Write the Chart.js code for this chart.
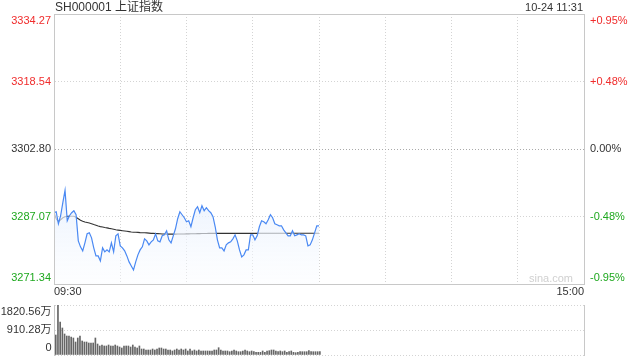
<!DOCTYPE html>
<html>
<head>
<meta charset="utf-8">
<script src="https://cdn.jsdelivr.net/npm/chart.js@4.4.1/dist/chart.umd.min.js"></script>
<style>
  html, body { margin: 0; padding: 0; background: #fff; }
  #wrap { position: relative; width: 640px; height: 360px; overflow: hidden; }
  #priceBox { position: absolute; left: 0; top: 0; width: 640px; height: 300px; }
  #volBox { position: absolute; left: 0; top: 290px; width: 640px; height: 70px; }
</style>
</head>
<body>
<div id="wrap">
  <div id="priceBox"><canvas id="priceChart"></canvas></div>
  <div id="volBox"><canvas id="volChart"></canvas></div>
</div>
<script>
// SH000001 intraday, 09:30 -> 11:30 (one point per minute)
const title = 'SH000001 上证指数';
const stamp = '10-24 11:31';
const prevClose = 3302.80;
const priceTicks = [3271.34, 3287.07, 3302.80, 3318.54, 3334.27];
const pctLabels = ['-0.95%', '-0.48%', '0.00%', '+0.48%', '+0.95%'];
const minuteTicks = [0, 30, 60, 90, 120, 150, 180, 210, 240];
const timeLabels = ['09:30', '', '', '', '', '', '', '', '15:00'];
const volTicks = [0, 910.28, 1820.56];
const volLabels = ['0', '910.28万', '1820.56万'];

const price = [
  3287.95, 3288.18, 3285.38, 3287.25, 3290.29, 3293.17, 3286.08, 3287.25, 3287.95, 3288.42,
  3287.48, 3281.40, 3280.00, 3279.06, 3280.93, 3283.04, 3283.27, 3282.10, 3279.76, 3277.89,
  3277.89, 3276.72, 3279.76, 3278.83, 3279.29, 3278.83, 3280.93, 3278.83, 3282.57, 3283.04,
  3280.23, 3279.76, 3279.06, 3277.89, 3276.49, 3275.55, 3274.62, 3276.49, 3278.13, 3279.29,
  3280.00, 3281.87, 3281.40, 3280.46, 3281.17, 3281.63, 3283.04, 3281.40, 3281.17, 3282.57,
  3282.80, 3283.74, 3281.63, 3280.93, 3282.57, 3284.21, 3286.55, 3288.18, 3287.48, 3286.78,
  3285.85, 3286.08, 3284.68, 3286.78, 3288.65, 3289.35, 3287.95, 3289.59, 3288.42, 3289.12,
  3288.42, 3287.95, 3287.02, 3284.68, 3281.63, 3279.76, 3279.76, 3279.06, 3280.46, 3280.93,
  3281.17, 3281.87, 3282.80, 3281.40, 3279.29, 3277.66, 3278.13, 3279.29, 3279.29, 3282.80,
  3282.80, 3281.63, 3282.57, 3284.68, 3286.08, 3285.85, 3285.38, 3286.31, 3287.48, 3286.78,
  3285.38, 3285.14, 3284.91, 3284.91, 3283.97, 3283.27, 3282.57, 3282.57, 3283.74, 3282.57,
  3282.80, 3283.04, 3282.80, 3282.80, 3282.57, 3280.23, 3280.46, 3281.63, 3283.27, 3284.91,
  3284.91
];

const avgPrice = [
  3287.95, 3286.55, 3285.85, 3286.31, 3286.78, 3287.02, 3287.13, 3287.13, 3287.13, 3287.13,
  3286.90, 3286.55, 3286.20, 3285.96, 3285.78, 3285.66, 3285.54, 3285.38, 3285.19, 3285.03,
  3284.84, 3284.72, 3284.63, 3284.51, 3284.42, 3284.30, 3284.21, 3284.09, 3283.97, 3283.90,
  3283.83, 3283.76, 3283.69, 3283.62, 3283.55, 3283.46, 3283.41, 3283.39, 3283.37, 3283.32,
  3283.30, 3283.27, 3283.25, 3283.20, 3283.15, 3283.13, 3283.11, 3283.08, 3283.06, 3283.01,
  3282.99, 3282.97, 3282.97, 3282.97, 3282.97, 3282.97, 3282.98, 3282.99, 3283.00, 3283.01,
  3283.02, 3283.03, 3283.04, 3283.05, 3283.06, 3283.08, 3283.09, 3283.10, 3283.11, 3283.12,
  3283.13, 3283.14, 3283.15, 3283.15, 3283.15, 3283.15, 3283.15, 3283.15, 3283.15, 3283.15,
  3283.15, 3283.15, 3283.15, 3283.15, 3283.15, 3283.15, 3283.15, 3283.15, 3283.15, 3283.15,
  3283.15, 3283.15, 3283.15, 3283.17, 3283.17, 3283.17, 3283.17, 3283.17, 3283.17, 3283.17,
  3283.17, 3283.17, 3283.17, 3283.17, 3283.17, 3283.17, 3283.17, 3283.17, 3283.17, 3283.17,
  3283.17, 3283.17, 3283.17, 3283.17, 3283.17, 3283.17, 3283.17, 3283.17, 3283.17, 3283.17,
  3283.17
];

// volume, 万
const volume = [
  728, 1820.56, 1201, 983, 765, 692, 692, 655, 619, 473,
  619, 692, 510, 473, 473, 437, 437, 437, 619, 400,
  328, 364, 328, 328, 364, 328, 328, 364, 328, 291,
  255, 328, 328, 328, 291, 364, 291, 255, 328, 218,
  218, 182, 182, 182, 218, 182, 218, 255, 255, 218,
  218, 182, 182, 146, 182, 218, 182, 218, 182, 218,
  146, 218, 146, 182, 146, 182, 146, 146, 146, 146,
  146, 146, 182, 182, 266, 182, 146, 146, 146, 120,
  146, 182, 146, 120, 120, 146, 182, 146, 120, 146,
  120, 98, 98, 98, 146, 98, 146, 157, 182, 182,
  146, 120, 146, 120, 146, 98, 120, 146, 98, 84,
  98, 120, 120, 120, 120, 157, 120, 120, 120, 120,
  120
];

const RED = '#f02c2c', GREEN = '#1fa81f', TEXT = '#333', GRID = '#d4d4d4', FRAME = '#c8c8c8';

Chart.defaults.font.family = 'Arial, "Liberation Sans", "Noto Sans CJK SC", sans-serif';
Chart.defaults.font.size = 11;

// first / last tick label pushed inside the box (two-line label trick)
function innerLabel(text, i, n) {
  if (i === 0) return [text, ''];
  if (i === n - 1) return ['', text];
  return text;
}

function tickColor(ctx) {
  const v = ctx.tick ? ctx.tick.value : prevClose;
  if (v > prevClose + 0.001) return RED;
  if (v < prevClose - 0.001) return GREEN;
  return TEXT;
}

function fillGradient(ctx) {
  const area = ctx.chart.chartArea;
  if (!area) return 'rgba(230,239,253,0.6)';
  const g = ctx.chart.ctx.createLinearGradient(0, area.top, 0, area.bottom);
  g.addColorStop(0, 'rgba(222,234,252,0.95)');
  g.addColorStop(0.65, 'rgba(230,239,253,0.85)');
  g.addColorStop(1, 'rgba(250,252,255,0.4)');
  return g;
}

const setTicks = list => scale => { scale.ticks = list.map(value => ({ value })); };
const fixWidth = w => scale => { scale.width = w; scale.paddingTop = 0; scale.paddingBottom = 0; };

const priceFrame = {
  id: 'priceFrame',
  afterDraw(chart) {
    const { ctx, chartArea: a } = chart;
    ctx.save();
    ctx.strokeStyle = FRAME;
    ctx.lineWidth = 1;
    ctx.strokeRect(a.left + 0.5, a.top + 0.5, a.right - a.left, a.bottom - a.top);
    ctx.textBaseline = 'middle';
    ctx.fillStyle = TEXT;
    ctx.font = '12px Arial, "Noto Sans CJK SC", sans-serif';
    ctx.textAlign = 'left';
    ctx.fillText(title, a.left + 1, 8);
    ctx.font = '11px Arial, sans-serif';
    ctx.textAlign = 'right';
    ctx.fillText(stamp, a.right - 1, 8);
    ctx.fillStyle = '#d0d0d0';
    ctx.fillText('sina.com', a.right - 11, a.bottom - 5);
    ctx.restore();
  }
};

const volFrame = {
  id: 'volFrame',
  afterDraw(chart) {
    const { ctx, chartArea: a } = chart;
    ctx.save();
    ctx.strokeStyle = FRAME;
    ctx.lineWidth = 1;
    ctx.beginPath();
    ctx.moveTo(a.left + 0.5, a.top);
    ctx.lineTo(a.left + 0.5, a.bottom + 1);
    ctx.moveTo(a.right + 0.5, a.top);
    ctx.lineTo(a.right + 0.5, a.bottom + 1);
    ctx.stroke();
    ctx.restore();
  }
};

new Chart(document.getElementById('priceChart'), {
  type: 'line',
  data: {
    datasets: [
      {
        label: '上证指数',
        data: price.map((y, x) => ({ x, y })),
        borderColor: '#4a89f3',
        borderWidth: 1.2,
        pointRadius: 0,
        tension: 0,
        fill: 'start',
        backgroundColor: fillGradient
      },
      {
        label: '均价',
        data: avgPrice.map((y, x) => ({ x, y })),
        borderColor: '#333',
        borderWidth: 1.1,
        pointRadius: 0,
        tension: 0,
        fill: false
      }
    ]
  },
  options: {
    responsive: true,
    maintainAspectRatio: false,
    animation: false,
    events: [],
    layout: { padding: { top: 14, left: 0, right: 0, bottom: 0 } },
    plugins: { legend: { display: false }, tooltip: { enabled: false } },
    scales: {
      x: {
        type: 'linear', min: 0, max: 240,
        afterBuildTicks: setTicks(minuteTicks),
        afterFit: s => { s.height = 16; s.paddingLeft = 0; s.paddingRight = 0; },
        ticks: { align: 'inner', autoSkip: false, maxRotation: 0, padding: 1, color: TEXT,
          callback: (v, i) => timeLabels[i] },
        grid: { color: GRID, drawTicks: false },
        border: { color: FRAME, dash: [1, 2] }
      },
      y: {
        position: 'left', min: priceTicks[0], max: priceTicks[priceTicks.length - 1],
        afterBuildTicks: setTicks(priceTicks),
        afterFit: fixWidth(54),
        ticks: { autoSkip: false, padding: 3, color: tickColor, font: { size: 11, lineHeight: '13px' },
          callback: (v, i, t) => innerLabel(priceTicks[i].toFixed(2), i, t.length) },
        grid: { color: ctx => (ctx.tick && ctx.tick.value === prevClose) ? '#aaa' : GRID, drawTicks: false },
        border: { color: FRAME, dash: [1, 2] }
      },
      yPct: {
        position: 'right', min: priceTicks[0], max: priceTicks[priceTicks.length - 1],
        afterBuildTicks: setTicks(priceTicks),
        afterFit: fixWidth(56),
        ticks: { autoSkip: false, padding: 6, color: tickColor, font: { size: 11, lineHeight: '13px' },
          callback: (v, i, t) => innerLabel(pctLabels[i], i, t.length) },
        grid: { display: false, drawTicks: false },
        border: { color: FRAME }
      }
    }
  },
  plugins: [priceFrame]
});

new Chart(document.getElementById('volChart'), {
  type: 'bar',
  data: {
    datasets: [{
      label: '成交量',
      data: volume.map((y, x) => ({ x, y })),
      backgroundColor: '#666',
      borderWidth: 0,
      barThickness: 1
    }]
  },
  options: {
    responsive: true,
    maintainAspectRatio: false,
    animation: false,
    events: [],
    layout: { padding: { top: 15, left: 0, right: 56, bottom: 5 } },
    plugins: { legend: { display: false }, tooltip: { enabled: false } },
    scales: {
      x: { type: 'linear', min: -0.8, max: 240, offset: false, grid: { offset: false }, display: false },
      y: {
        min: 0, max: volTicks[volTicks.length - 1],
        afterBuildTicks: setTicks(volTicks),
        afterFit: fixWidth(54),
        ticks: { autoSkip: false, padding: 2.5, color: TEXT, font: { size: 11, lineHeight: '14px' },
          callback: (v, i, t) => innerLabel(volLabels[i], i, t.length) },
        grid: { color: GRID, drawTicks: false },
        border: { color: FRAME, dash: [1, 2] }
      }
    }
  },
  plugins: [volFrame]
});
</script>
</body>
</html>
